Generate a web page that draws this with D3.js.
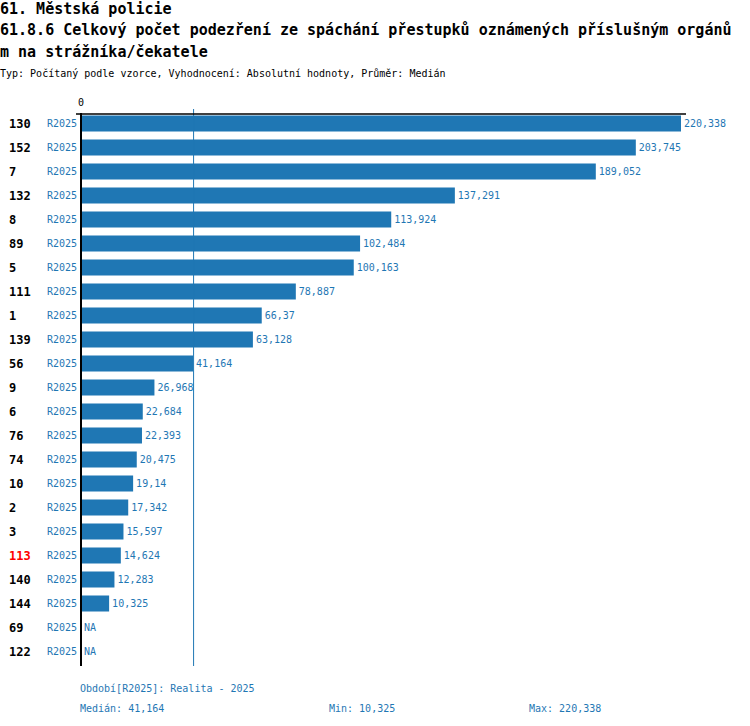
<!DOCTYPE html>
<html>
<head>
<meta charset="utf-8">
<script src="https://cdn.jsdelivr.net/npm/d3@7"></script>
<style>
  body { margin: 0; background: #fff; }
  svg { display: block; font-family: "DejaVu Sans Mono", monospace; }
</style>
</head>
<body>
<svg id="chart" width="750" height="726"></svg>
<script>
const titleLines = [
  "61. Městská policie",
  "61.8.6 Celkový počet podezření ze spáchání přestupků oznámených příslušným orgánů",
  "m na strážníka/čekatele"
];
const subtitle = "Typ: Počítaný podle vzorce, Vyhodnocení: Absolutní hodnoty, Průměr: Medián";
const categories = ["130","152","7","132","8","89","5","111","1","139","56","9","6","76","74","10","2","3","113","140","144","69","122"];
const values = [220.338,203.745,189.052,137.291,113.924,102.484,100.163,78.887,66.37,63.128,41.164,26.968,22.684,22.393,20.475,19.14,17.342,15.597,14.624,12.283,10.325,null,null];
const period = "R2025";
const highlighted = "113";
const median = 41.164, minV = 10.325, maxV = 220.338;
const legendText = "Období[R2025]: Realita - 2025";

const blue = "#1f77b4";
const svg = d3.select("#chart");
const fmt = v => String(+v.toFixed(3)).replace(".", ",");

const x = d3.scaleLinear().domain([0, maxV]).range([81, 681]);
const y = d3.scaleBand().domain(categories).range([111.5, 663.5]).paddingInner(1/3).paddingOuter(1/6);

// titles
svg.selectAll("text.title").data(titleLines).join("text")
  .attr("x", 0).attr("y", (d, i) => 13.5 + i * 21.5)
  .attr("font-size", 15).attr("font-weight", "bold").attr("fill", "#000")
  .text(d => d);
svg.append("text").attr("x", 0).attr("y", 76.5).attr("font-size", 10).attr("fill", "#000").text(subtitle);

const data = categories.map((c, i) => ({ c, v: values[i] }));

// bars
svg.selectAll("rect.bar").data(data.filter(d => d.v != null)).join("rect")
  .attr("x", x(0)).attr("y", d => y(d.c))
  .attr("width", d => x(d.v) - x(0)).attr("height", y.bandwidth())
  .attr("fill", blue);

// median line
svg.append("line").attr("x1", x(median) + 0.5).attr("x2", x(median) + 0.5)
  .attr("y1", 109).attr("y2", 666).attr("stroke", blue).attr("stroke-width", 1);

// axes lines
svg.append("line").attr("x1", 76).attr("x2", 686).attr("y1", 114).attr("y2", 114)
  .attr("stroke", "#000").attr("stroke-width", 1.5);
svg.append("line").attr("x1", 81).attr("x2", 81).attr("y1", 113).attr("y2", 666)
  .attr("stroke", "#000").attr("stroke-width", 2);
svg.append("text").attr("x", x(0)).attr("y", 106).attr("font-size", 10)
  .attr("text-anchor", "middle").text("0");

// category labels
svg.selectAll("text.cat").data(data).join("text")
  .attr("x", 9).attr("y", d => y(d.c) + y.bandwidth() / 2)
  .attr("dy", "0.35em").attr("font-size", 12).attr("font-weight", "bold")
  .attr("fill", d => d.c === highlighted ? "#ff0000" : "#000")
  .text(d => d.c);
svg.selectAll("text.per").data(data).join("text")
  .attr("x", 77).attr("y", d => y(d.c) + y.bandwidth() / 2)
  .attr("dy", "0.35em").attr("font-size", 10).attr("text-anchor", "end")
  .attr("fill", blue).text(period);
// value labels
svg.selectAll("text.val").data(data).join("text")
  .attr("x", d => (d.v == null ? x(0) : x(d.v)) + 3)
  .attr("y", d => y(d.c) + y.bandwidth() / 2)
  .attr("dy", "0.35em").attr("font-size", 10).attr("fill", blue)
  .text(d => d.v == null ? "NA" : fmt(d.v));

// footer
svg.append("text").attr("x", 80).attr("y", 692).attr("font-size", 10).attr("fill", blue).text(legendText);
svg.append("text").attr("x", 80).attr("y", 712).attr("font-size", 10).attr("fill", blue).text("Medián: " + fmt(median));
svg.append("text").attr("x", 329).attr("y", 712).attr("font-size", 10).attr("fill", blue).text("Min: " + fmt(minV));
svg.append("text").attr("x", 529).attr("y", 712).attr("font-size", 10).attr("fill", blue).text("Max: " + fmt(maxV));
</script>
</body>
</html>
